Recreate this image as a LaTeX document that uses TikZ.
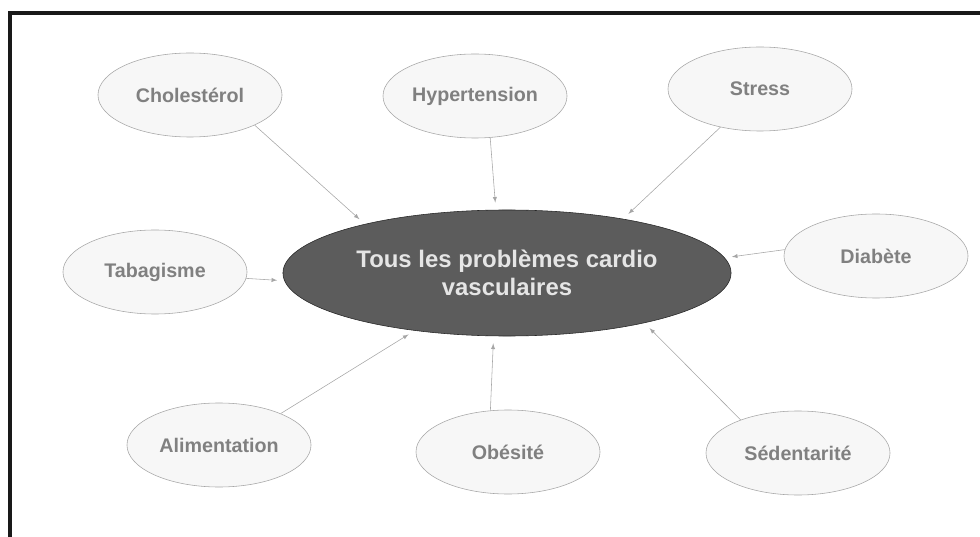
\documentclass[tikz,border=0pt]{standalone}
\usepackage{fontspec}
\setmainfont{Liberation Sans}
\usepackage{tikz}
\usetikzlibrary{arrows,shapes.geometric}

\begin{document}
\begin{tikzpicture}[->,
            >=latex,
            x=0.025cm,
            y=-0.025cm,
            thin,
            factor/.style={ellipse,draw=gray!70,fill=gray!6,text=black!50,
                           minimum width=4.6cm,minimum height=2.1cm,inner sep=0pt,
                           font=\fontsize{14}{16}\selectfont\bfseries},
            core/.style={ellipse,draw=black!85,fill=black!64,text=white!90!black,
                         minimum width=11.2cm,minimum height=3.15cm,inner sep=0pt,
                         align=center,font=\fontsize{17}{20}\selectfont\bfseries},
            link/.style={draw=gray!70,shorten >=0.18cm}]

        \useasboundingbox (0,0) rectangle (980,537);
        \draw[-,line width=0.1cm,black!90] (10,537) -- (10,13) -- (980,13);

        \node[core]   (main) at (507,273) {Tous les problèmes cardio\\vasculaires};

        \node[factor] (cho)  at (190,95)  {Cholestérol};
        \node[factor] (hyp)  at (475,96)  {Hypertension};
        \node[factor] (str)  at (760,89)  {Stress};
        \node[factor] (tab)  at (155,272) {Tabagisme};
        \node[factor] (dia)  at (876,256) {Diabète};
        \node[factor] (ali)  at (219,445) {Alimentation};
        \node[factor] (obe)  at (508,452) {Obésité};
        \node[factor] (sed)  at (798,453) {Sédentarité};

        \path (cho.-25) edge [link] (main.161)
              (hyp.-70) edge [link] (main.100)
              (str.-136) edge [link] (main.25)
              (tab.-4)  edge [link] (main.182)
              (dia.176) edge [link] (main.4)
              (ali.27)  edge [link] (main.212)
              (obe.113) edge [link] (main.258)
              (sed.150) edge [link] (main.340);

    \end{tikzpicture}
\end{document}
